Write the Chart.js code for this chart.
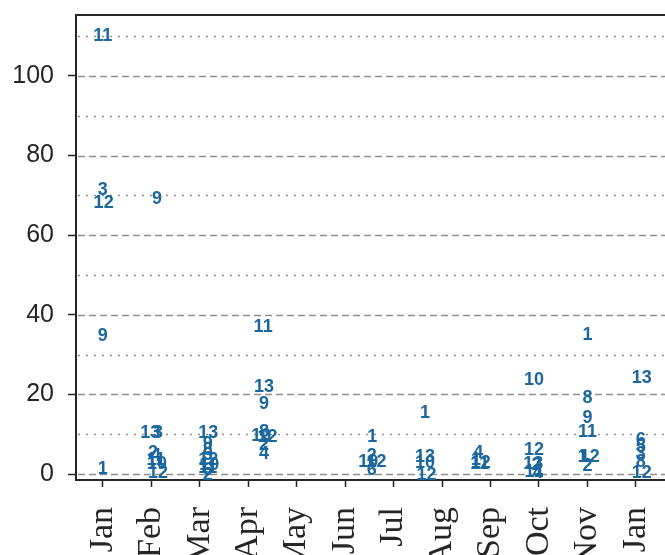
<!DOCTYPE html>
<html>
<head>
<meta charset="utf-8">
<script src="https://cdn.jsdelivr.net/npm/chart.js@4.4.1/dist/chart.umd.min.js"></script>
<style>
  html, body { margin: 0; padding: 0; background: #fff; }
  #wrap { width: 665px; height: 555px; }
</style>
</head>
<body>
<div id="wrap"><canvas id="c"></canvas></div>
<script>
// month tick labels (position 0..11)
const monthLabels = ['Jan', 'Feb', 'Mar', 'Apr', 'May', 'Jun', 'Jul', 'Aug', 'Sep', 'Oct', 'Nov', 'Jan']
const yTicks = [0, 10, 20, 30, 40, 50, 60, 70, 80, 90, 100, 110]

// each mark is a text label placed at (month position, value)
const markText = [
  '11', '3', '12', '9', '1',
  '9', '13', '3', '2', '4', '11', '10', '12',
  '13', '9', '8', '5', '12', '10', '11', '6', '2',
  '11', '13', '9', '8', '10', '12', '2', '4',
  '1', '2', '12', '10', '6',
  '1', '13', '10', '12',
  '4', '1', '12', '11',
  '10', '12', '13', '2', '11', '4',
  '1', '8', '9', '11', '1', '12', '2',
  '13', '6', '5', '3', '8', '12'
]
const markMonth = [
  0, 0, 0.02, 0, 0,
  1.12, 0.98, 1.14, 1.04, 1.1, 1.1, 1.12, 1.14,
  2.18, 2.17, 2.17, 2.17, 2.18, 2.2, 2.17, 2.17, 2.17,
  3.31, 3.33, 3.33, 3.33, 3.27, 3.4, 3.33, 3.33,
  5.56, 5.55, 5.65, 5.48, 5.55,
  6.65, 6.65, 6.65, 6.68,
  7.75, 7.7, 7.8, 7.78,
  8.9, 8.9, 8.88, 8.95, 8.9, 8.98,
  10.0, 10.0, 10.0, 10.0, 9.9, 10.05, 10.0,
  11.12, 11.1, 11.1, 11.1, 11.1, 11.12
]
const markValue = [
  110, 71.3, 68, 34.7, 1.2,
  69, 10.3, 10.3, 5.2, 4.5, 3.5, 2.5, 0.2,
  10.3, 7.5, 6, 4.8, 3.5, 2.2, 1.5, 1, -0.2,
  37, 21.8, 17.5, 10.5, 9.5, 9.3, 7.2, 5,
  9.2, 4.6, 3.1, 3.0, 1.0,
  15.3, 4.3, 2.8, -0.3,
  5.3, 3.5, 2.8, 2.4,
  23.5, 6, 2.5, 2.3, 0.5, 0.3,
  35, 19, 14, 10.5, 4.3, 4.3, 2,
  24, 8.5, 6.8, 5, 3, 0.3
]

const markColor = '#1b679e'
const axisColor = '#262626'
const gridColor = '#8f8f8f'

const points = markValue.map((v, i) => ({ x: markMonth[i], y: v }))

const gridPlugin = {
  id: 'gridLines',
  beforeDatasetsDraw(chart) {
    const ctx = chart.ctx
    const area = chart.chartArea
    const ys = chart.scales.y
    ctx.save()
    ctx.strokeStyle = gridColor
    ctx.lineWidth = 1.3
    yTicks.forEach(v => {
      const py = Math.round(ys.getPixelForValue(v)) + 0.5
      ctx.setLineDash(v % 20 === 0 ? [7, 4] : [2, 6])
      ctx.beginPath()
      ctx.moveTo(area.left + 2, py)
      ctx.lineTo(area.right, py)
      ctx.stroke()
    })
    ctx.restore()
  },
  afterDatasetsDraw(chart) {
    const ctx = chart.ctx
    const meta = chart.getDatasetMeta(0)
    ctx.save()
    ctx.fillStyle = markColor
    ctx.font = 'bold 18px "Liberation Sans", Arial, sans-serif'
    ctx.textAlign = 'center'
    ctx.textBaseline = 'middle'
    meta.data.forEach((pt, i) => {
      ctx.fillText(markText[i], pt.x, pt.y)
    })
    // top frame line
    const area = chart.chartArea
    ctx.strokeStyle = axisColor
    ctx.lineWidth = 2
    ctx.beginPath()
    ctx.moveTo(area.left - 1, area.top)
    ctx.lineTo(area.right, area.top)
    ctx.stroke()
    ctx.restore()
  }
}

new Chart(document.getElementById('c'), {
  type: 'scatter',
  data: {
    datasets: [{
      data: points,
      pointRadius: 0,
      pointHoverRadius: 0
    }]
  },
  options: {
    responsive: true,
    maintainAspectRatio: false,
    animation: false,
    layout: { padding: { top: 15, right: 0, left: 0, bottom: 0 } },
    plugins: {
      legend: { display: false },
      tooltip: { enabled: false }
    },
    scales: {
      x: {
        type: 'linear',
        min: -0.55,
        max: 11.6,
        afterBuildTicks: s => { s.ticks = monthLabels.map((m, i) => ({ value: i })) },
        afterFit: s => {
          s.height = 75
          s.paddingLeft = 0
          s.paddingRight = 0
        },
        ticks: {
          autoSkip: false,
          minRotation: 90,
          maxRotation: 90,
          padding: 20,
          color: axisColor,
          font: { family: '"Liberation Serif", "Times New Roman", serif', size: 34 },
          callback: v => monthLabels[v]
        },
        grid: {
          drawOnChartArea: false,
          tickLength: 7,
          tickColor: axisColor,
          tickWidth: 1.5
        },
        border: { color: axisColor, width: 2 }
      },
      y: {
        min: -1.5,
        max: 115.3,
        afterBuildTicks: s => { s.ticks = yTicks.map(v => ({ value: v })) },
        afterFit: s => {
          s.width = 76
          s.paddingTop = 0
          s.paddingBottom = 0
        },
        ticks: {
          padding: 14,
          color: axisColor,
          font: { family: '"Liberation Sans", Arial, sans-serif', size: 25 },
          callback: v => (v % 20 === 0 ? String(v) : '')
        },
        grid: {
          drawOnChartArea: false,
          tickLength: 8,
          tickWidth: 1.5,
          tickColor: c => (c.tick && c.tick.value % 20 === 0 ? axisColor : 'rgba(0,0,0,0)')
        },
        border: { color: axisColor, width: 2 }
      }
    }
  },
  plugins: [gridPlugin]
})
</script>
</body>
</html>
